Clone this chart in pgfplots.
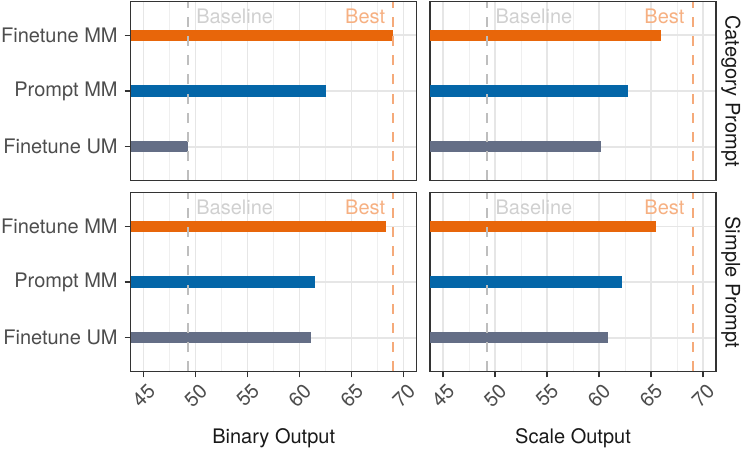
\documentclass[border=0pt]{standalone}
\usepackage{fontspec}
\setmainfont{TeX Gyre Heros}
\usepackage{pgfplots}
\pgfplotsset{compat=1.18}
\definecolor{cFT}{RGB}{232,102,10}
\definecolor{cPR}{RGB}{4,102,168}
\definecolor{cUM}{RGB}{100,110,134}
\definecolor{cBest}{RGB}{245,170,122}
\definecolor{cBestTxt}{RGB}{246,176,130}
\definecolor{cBase}{RGB}{190,190,190}
\definecolor{cBaseTxt}{RGB}{208,208,208}
\definecolor{ctick}{RGB}{77,77,77}
\definecolor{cframe}{RGB}{51,51,51}
\definecolor{cgrid}{RGB}{230,230,230}
\definecolor{cgridm}{RGB}{239,239,239}

\pgfplotsset{facet/.style={
  scale only axis, width=143pt, height=89.3pt,
  xmin=43.75, xmax=71.25, ymin=0.4, ymax=3.6,
  xtick={45,50,...,70}, minor xtick={47.5,52.5,...,72.5}, ytick={1,2,3},
  xmajorgrids, xminorgrids, ymajorgrids,
  major grid style={color=cgrid, line width=0.7pt},
  minor grid style={color=cgridm, line width=0.5pt},
  axis line style={cframe, line width=0.55pt},
  tick align=outside, major tick length=3pt, minor tick length=0pt,
  tick style={cframe, line width=0.55pt},
  xtick pos=bottom, ytick pos=left,
  xticklabels={}, yticklabels={},
  font=\fontsize{10}{12}\selectfont,
  tick label style={color=ctick, font=\fontsize{10}{12}\selectfont},
  /pgf/number format/assume math mode=true,
  clip=true,
},
toprow/.style={xmajorticks=false},
rightcol/.style={ymajorticks=false},
bottomrow/.style={
  xticklabels={45,50,55,60,65,70},
  xticklabel style={rotate=45, anchor=center},
  xticklabel shift=9pt,
},
leftcol/.style={
  yticklabels={Finetune UM,Prompt MM,Finetune MM},
}}

\newcommand{\refl}{%
  \addplot[cBase, line width=1pt, dash pattern=on 5pt off 4.6pt, forget plot] coordinates {(49.27,0.4) (49.27,3.6)};
  \addplot[cBest, line width=1pt, dash pattern=on 5pt off 4.6pt, forget plot] coordinates {(69.0,0.4) (69.0,3.6)};
  \node[anchor=west, inner sep=0pt, text=cBaseTxt] at (axis cs:50.02,3.33) {Baseline};
  \node[anchor=east, inner sep=0pt, text=cBestTxt] at (axis cs:68.25,3.33) {Best};
}

\begin{document}
\begin{tikzpicture}
\useasboundingbox (0,0) rectangle (373.5pt,-226pt);

% Top left: Category Prompt, Binary Output
\begin{axis}[facet, toprow, leftcol, at={(65.35pt,-0.85pt)}, anchor=north west]
  \addplot[xbar, bar width=0.2, bar shift=0pt, fill=cUM, draw=none] coordinates {(49.3,1)};
  \addplot[xbar, bar width=0.2, bar shift=0pt, fill=cPR, draw=none] coordinates {(62.5,2)};
  \addplot[xbar, bar width=0.2, bar shift=0pt, fill=cFT, draw=none] coordinates {(69.0,3)};
  \refl
\end{axis}

% Top right: Category Prompt, Scale Output
\begin{axis}[facet, toprow, rightcol, at={(215pt,-0.85pt)}, anchor=north west]
  \addplot[xbar, bar width=0.2, bar shift=0pt, fill=cUM, draw=none] coordinates {(60.2,1)};
  \addplot[xbar, bar width=0.2, bar shift=0pt, fill=cPR, draw=none] coordinates {(62.75,2)};
  \addplot[xbar, bar width=0.2, bar shift=0pt, fill=cFT, draw=none] coordinates {(66.0,3)};
  \refl
\end{axis}

% Bottom left: Simple Prompt, Binary Output
\begin{axis}[facet, leftcol, bottomrow, at={(65.35pt,-96.35pt)}, anchor=north west]
  \addplot[xbar, bar width=0.2, bar shift=0pt, fill=cUM, draw=none] coordinates {(61.05,1)};
  \addplot[xbar, bar width=0.2, bar shift=0pt, fill=cPR, draw=none] coordinates {(61.5,2)};
  \addplot[xbar, bar width=0.2, bar shift=0pt, fill=cFT, draw=none] coordinates {(68.3,3)};
  \refl
\end{axis}

% Bottom right: Simple Prompt, Scale Output
\begin{axis}[facet, rightcol, bottomrow, at={(215pt,-96.35pt)}, anchor=north west]
  \addplot[xbar, bar width=0.2, bar shift=0pt, fill=cUM, draw=none] coordinates {(60.9,1)};
  \addplot[xbar, bar width=0.2, bar shift=0pt, fill=cPR, draw=none] coordinates {(62.2,2)};
  \addplot[xbar, bar width=0.2, bar shift=0pt, fill=cFT, draw=none] coordinates {(65.45,3)};
  \refl
\end{axis}

\node[font=\fontsize{10}{12}\selectfont, text=black!90] at (136.85pt,-219pt) {Binary Output};
\node[font=\fontsize{10}{12}\selectfont, text=black!90] at (286.5pt,-219pt) {Scale Output};
\node[font=\fontsize{10}{12}\selectfont, text=black!90, rotate=-90] at (365.5pt,-45.5pt) {Category Prompt};
\node[font=\fontsize{10}{12}\selectfont, text=black!90, rotate=-90] at (365.5pt,-141.1pt) {Simple Prompt};
\end{tikzpicture}
\end{document}
